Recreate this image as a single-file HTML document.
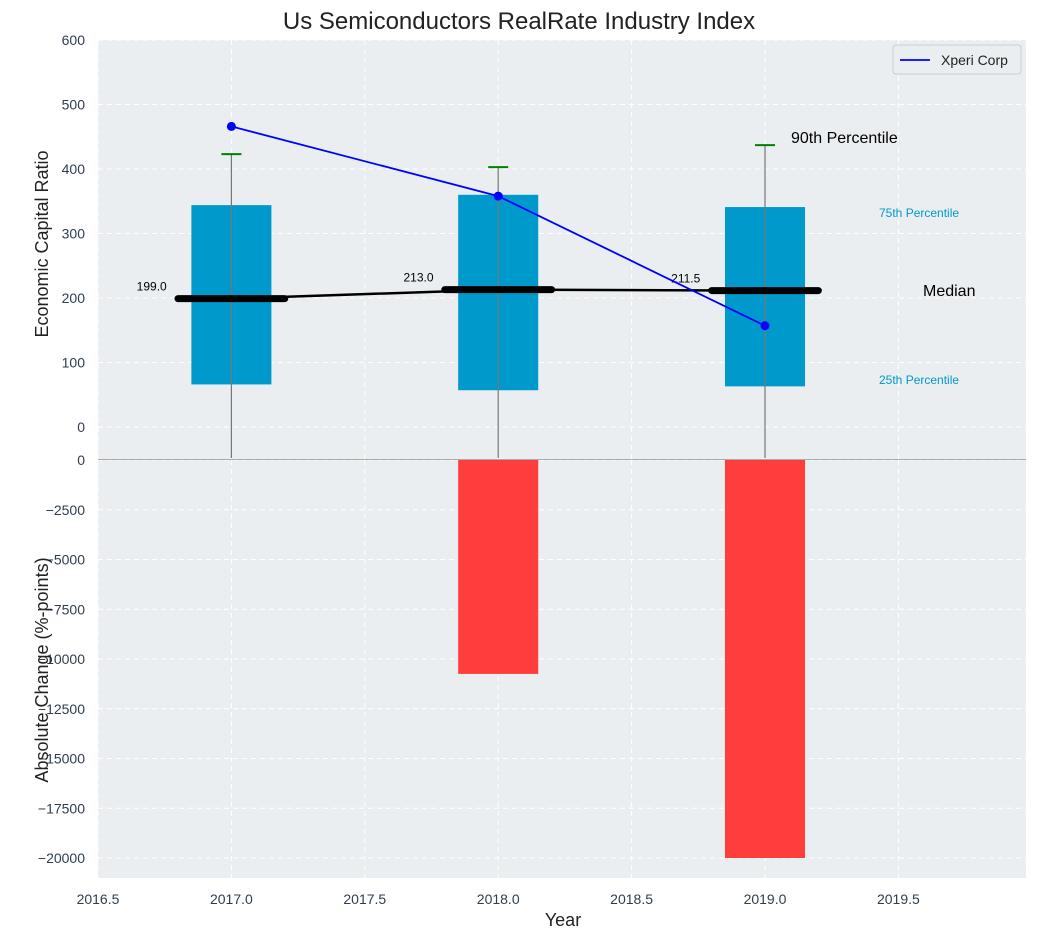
<!DOCTYPE html>
<html><head><meta charset="utf-8"><style>
body{margin:0;background:#fff;font-family:"Liberation Sans",sans-serif}
svg text{font-family:"Liberation Sans",sans-serif}
</style></head><body>
<svg id="c" width="1038" height="940" xmlns="http://www.w3.org/2000/svg"></svg>
<script>
const years=[2017,2018,2019];
const q25=[66,57,63];
const q75=[344,360,341];
const q90=[423,403,437];
const medians=[199.0,213.0,211.5];
const xperi=[466,358,157];
const absChange=[0,-10750,-20000];
const topTicks=[0,100,200,300,400,500,600];
const botTicks=[0,-2500,-5000,-7500,-10000,-12500,-15000,-17500,-20000];
const xTicks=[2016.5,2017.0,2017.5,2018.0,2018.5,2019.0,2019.5];

const NS='http://www.w3.org/2000/svg';
const svg=document.getElementById('c');
function el(t,a,p){const e=document.createElementNS(NS,t);for(const k in a)e.setAttribute(k,a[k]);(p||svg).appendChild(e);return e;}
const L=98,R=1026;
const TC='#2f3e4e';
const X=v=>L+(v-2016.5)/0.5*133.4;
const Yt=v=>427-v*0.645;
const Ybot=v=>460+(-v)/2500*49.75;

let t;
t=el('text',{x:519,y:29,'font-size':24,'text-anchor':'middle',fill:'#222'});t.textContent='Us Semiconductors RealRate Industry Index';


let bg=el('rect',{x:L,y:40,width:R-L,height:419,fill:'#eaeef0'});

bg=el('rect',{x:L,y:460,width:R-L,height:418,fill:'#eaeef0'});


xTicks.forEach(v=>{
  el('line',{x1:X(v),x2:X(v),y1:40,y2:459,stroke:'#fff','stroke-dasharray':'5,4','stroke-width':1});
  el('line',{x1:X(v),x2:X(v),y1:460,y2:878,stroke:'#fff','stroke-dasharray':'5,4','stroke-width':1});
  let tt=el('text',{x:X(v),y:904,'font-size':14,'text-anchor':'middle',fill:TC});tt.textContent=v.toFixed(1);
  
});
topTicks.forEach(v=>{
  el('line',{x1:L,x2:R,y1:Yt(v),y2:Yt(v),stroke:'#fff','stroke-dasharray':'5,4'});
  let tt=el('text',{x:85,y:Yt(v)+5,'font-size':14,'text-anchor':'end',fill:TC});tt.textContent=v;
  
});
botTicks.forEach(v=>{
  el('line',{x1:L,x2:R,y1:Ybot(v),y2:Ybot(v),stroke:'#fff','stroke-dasharray':'5,4'});
  let tt=el('text',{x:85,y:Ybot(v)+5,'font-size':14,'text-anchor':'end',fill:TC});tt.textContent=v<0?'\u2212'+(-v):v;
  
});

const bw=0.3*266.8;
years.forEach((y,i)=>{
  let r=el('rect',{x:X(y)-bw/2,y:Yt(q75[i]),width:bw,height:Yt(q25[i])-Yt(q75[i]),fill:'#0099cc'});
  
  let w=el('line',{x1:X(y),x2:X(y),y1:Yt(q90[i]),y2:458,stroke:'#777','stroke-width':1.2});
  
  let c=el('line',{x1:X(y)-10,x2:X(y)+10,y1:Yt(q90[i]),y2:Yt(q90[i]),stroke:'#008000','stroke-width':2});
  
});
let pts=years.map((y,i)=>X(y)+','+Yt(medians[i])).join(' ');
let ml=el('polyline',{points:pts,fill:'none',stroke:'#000','stroke-width':2.5});

years.forEach((y,i)=>{
  let m=el('line',{x1:X(y)-0.2*266.8,x2:X(y)+0.2*266.8,y1:Yt(medians[i]),y2:Yt(medians[i]),stroke:'#000','stroke-width':7,'stroke-linecap':'round'});
  
  let tt=el('text',{x:X(y)-0.22*266.8-6,y:Yt(medians[i])-8,'font-size':12,'text-anchor':'end',fill:'#000'});tt.textContent=medians[i].toFixed(1);
  
});
let xp=el('polyline',{points:years.map((y,i)=>X(y)+','+Yt(xperi[i])).join(' '),fill:'none',stroke:'#0000ff','stroke-width':1.8});

years.forEach((y,i)=>{let c=el('circle',{cx:X(y),cy:Yt(xperi[i]),r:4.5,fill:'#0000ff'});
  });

[['90th Percentile',791,143,16,'#000','annotation-90th'],['75th Percentile',879,217,12,'#0099cc','annotation-75th'],['Median',923,296,16,'#000','annotation-median'],['25th Percentile',879,384,12,'#0099cc','annotation-25th']].forEach(a=>{
  let tt=el('text',{x:a[1],y:a[2],'font-size':a[3],fill:a[4]});tt.textContent=a[0];
  
});

years.forEach((y,i)=>{
  if(absChange[i]===0)return;
  let r=el('rect',{x:X(y)-bw/2,y:460,width:bw,height:Ybot(absChange[i])-460,fill:'#ff3d3d'});
  
});
el('line',{x1:L,x2:R,y1:459.5,y2:459.5,stroke:'#aaa','stroke-width':1});

let lg=el('g',{});
el('rect',{x:893,y:45,width:128,height:29,fill:'#eaeef0',stroke:'#ccc',rx:3},lg);
el('line',{x1:900,x2:930,y1:60,y2:60,stroke:'#0000ff','stroke-width':1.8},lg);
t=el('text',{x:941,y:65,'font-size':14,fill:'#222'},lg);t.textContent='Xperi Corp';


t=el('text',{x:0,y:0,'font-size':18,'text-anchor':'middle',fill:'#222',transform:'translate(48,244) rotate(-90)'});t.textContent='Economic Capital Ratio';

t=el('text',{x:0,y:0,'font-size':18,'text-anchor':'middle',fill:'#222',transform:'translate(48,670) rotate(-90)'});t.textContent='Absolute Change (%-points)';

t=el('text',{x:563,y:926,'font-size':18,'text-anchor':'middle',fill:'#222'});t.textContent='Year';

</script>
</body></html>
